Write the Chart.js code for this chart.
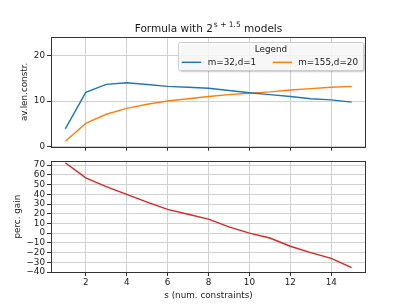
<!DOCTYPE html>
<html>
<head>
<meta charset="utf-8">
<script src="https://cdn.jsdelivr.net/npm/chart.js@4.4.0/dist/chart.umd.min.js"></script>
<style>
  html, body { margin: 0; padding: 0; background: #fff; }
  #wrap { position: relative; width: 407px; height: 306px; overflow: hidden; }
  .box { position: absolute; left: 0; width: 407px; }
</style>
</head>
<body>
<div id="wrap">
  <div class="box" style="top:0;height:154px;"><canvas id="topChart"></canvas></div>
  <div class="box" style="top:154px;height:152px;"><canvas id="bottomChart"></canvas></div>
</div>
<script>
/* ---- Data ---- */
const sValues   = [1, 2, 3, 4, 5, 6, 7, 8, 9, 10, 11, 12, 13, 14, 15];
const lenM32    = [3.9, 11.9, 13.65, 14.0, 13.6, 13.2, 13.0, 12.8, 12.3, 11.8, 11.4, 11.0, 10.5, 10.25, 9.75];
const lenM155   = [1.2, 5.1, 7.1, 8.4, 9.3, 10.0, 10.5, 11.0, 11.4, 11.7, 12.0, 12.4, 12.7, 13.0, 13.2];
const percGain  = [72.5, 57, 48, 40, 32, 24.5, 19.5, 14.5, 6.5, 0, -5, -13.5, -20, -26, -35.5];
const seriesLabels = ['m=32,d=1', 'm=155,d=20'];
const xTicks    = [2, 4, 6, 8, 10, 12, 14];
const topYTicks = [0, 10, 20];
const botYTicks = [-40, -30, -20, -10, 0, 10, 20, 30, 40, 50, 60, 70];

const FONT = 'DejaVu Sans';
const TXT = '#1a1a1a';
const GRID = '#d0d0d0';
const COLORS = ['#1f77b4', '#ff7f0e', '#d62728'];

function pts(ys) {
  return sValues.map((x, i) => ({ x, y: ys[i] }));
}
function keepTicks(list) {
  return (scale) => { scale.ticks = list.map((v) => ({ value: v })); };
}
function minus(v) {
  return String(v).replace('-', '\u2212');
}

/* ---- Frame around plot area (matplotlib spines) ---- */
const framePlugin = {
  id: 'frame',
  afterDraw(chart) {
    const { ctx, chartArea: a } = chart;
    ctx.save();
    ctx.strokeStyle = '#333';
    ctx.lineWidth = 1;
    ctx.strokeRect(Math.round(a.left) + 0.5, Math.round(a.top) + 0.5,
      Math.round(a.right - a.left) - 1, Math.round(a.bottom - a.top));
    ctx.restore();
  },
};

/* ---- Title with superscript + in-axes legend ---- */
const topDecor = {
  id: 'topDecor',
  afterDraw(chart) {
    const { ctx, chartArea: a } = chart;
    ctx.save();
    // title
    const main = `10.5px "${FONT}"`;
    const sup = `7.5px "${FONT}"`;
    const p1 = 'Formula with 2', p2 = 's + 1.5', p3 = ' models';
    ctx.font = main; const w1 = ctx.measureText(p1).width, w3 = ctx.measureText(p3).width;
    ctx.font = sup;  const w2 = ctx.measureText(p2).width + 1;
    let x = (a.left + a.right) / 2 - (w1 + w2 + w3) / 2;
    ctx.fillStyle = TXT; ctx.textBaseline = 'alphabetic'; ctx.textAlign = 'left';
    ctx.font = main; ctx.fillText(p1, x, 31.7); x += w1 + 1;
    ctx.font = sup;  ctx.fillText(p2, x, 26.5); x += w2 - 1;
    ctx.font = main; ctx.fillText(p3, x, 31.7);

    // legend box
    const bx = 178.5, by = 42.5, bw = 185, bh = 28;
    ctx.shadowColor = 'rgba(0,0,0,0.25)';
    ctx.shadowOffsetX = 1.5; ctx.shadowOffsetY = 1.5; ctx.shadowBlur = 1.5;
    ctx.fillStyle = 'rgba(255,255,255,0.85)';
    ctx.beginPath(); ctx.roundRect(bx, by, bw, bh, 2); ctx.fill();
    ctx.shadowColor = 'transparent';
    ctx.strokeStyle = '#cccccc'; ctx.lineWidth = 1; ctx.stroke();

    ctx.fillStyle = TXT;
    ctx.font = `8.8px "${FONT}"`;
    ctx.textAlign = 'center'; ctx.textBaseline = 'middle';
    ctx.fillText('Legend', bx + bw / 2, 49.5);
    ctx.textAlign = 'left';
    const entries = [[181.7, 207.7], [272.7, 298.3]];
    entries.forEach(([lx, tx], i) => {
      ctx.strokeStyle = COLORS[i]; ctx.lineWidth = 1.4;
      ctx.beginPath(); ctx.moveTo(lx, 62.3); ctx.lineTo(lx + 19.5, 62.3); ctx.stroke();
      ctx.fillText(seriesLabels[i], tx, 62.5);
    });
    ctx.restore();
  },
};

const tickFont = { family: FONT, size: 8.8 };
const commonGrid = { color: GRID, lineWidth: 1, tickLength: 4, tickColor: '#333', drawTicks: true };

function xScale(extra) {
  return Object.assign({
    type: 'linear', min: 0.3, max: 15.7,
    afterBuildTicks: keepTicks(xTicks),
    grid: commonGrid,
    border: { display: false },
  }, extra);
}

/* ---- Top: average constraint length ---- */
new Chart(document.getElementById('topChart'), {
  type: 'line',
  data: {
    datasets: [
      { label: seriesLabels[0], data: pts(lenM32),  borderColor: COLORS[0] },
      { label: seriesLabels[1], data: pts(lenM155), borderColor: COLORS[1] },
    ],
  },
  options: {
    responsive: true, maintainAspectRatio: false, animation: false,
    layout: { padding: { top: 37, right: 41, left: 0, bottom: 0 } },
    elements: { point: { radius: 0 }, line: { borderWidth: 1.4, tension: 0 } },
    plugins: { legend: { display: false }, tooltip: { enabled: false } },
    scales: {
      x: xScale({ ticks: { display: false, autoSkip: false }, afterFit: (s) => { s.height = 4.5; } }),
      y: {
        min: 0, max: 24,
        afterBuildTicks: keepTicks(topYTicks),
        afterFit: (s) => { s.width = 51; },
        grid: commonGrid,
        border: { display: false },
        ticks: { font: tickFont, color: TXT, padding: 2, autoSkip: false },
        title: { display: true, text: 'av.len.constr.', font: tickFont, color: TXT, padding: { top: 19.5 } },
      },
    },
  },
  plugins: [framePlugin, topDecor],
});

/* ---- Bottom: percentage gain ---- */
new Chart(document.getElementById('bottomChart'), {
  type: 'line',
  data: {
    datasets: [{ label: 'perc. gain', data: pts(percGain), borderColor: COLORS[2] }],
  },
  options: {
    responsive: true, maintainAspectRatio: false, animation: false,
    layout: { padding: { top: 6.7, right: 41, left: 0, bottom: 0 } },
    elements: { point: { radius: 0 }, line: { borderWidth: 1.4, tension: 0 } },
    plugins: { legend: { display: false }, tooltip: { enabled: false } },
    scales: {
      x: xScale({
        afterFit: (s) => { s.height = 34; },
        ticks: { font: tickFont, color: TXT, padding: 1.4, maxRotation: 0, autoSkip: false },
        title: { display: true, text: 's (num. constraints)', font: tickFont, color: TXT, padding: { top: 0, bottom: 5.4 } },
      }),
      y: {
        min: -40, max: 74,
        afterBuildTicks: keepTicks(botYTicks),
        afterFit: (s) => { s.width = 51; },
        grid: commonGrid,
        border: { display: false },
        ticks: { font: tickFont, color: TXT, padding: 2, autoSkip: false, callback: (v) => minus(v) },
        title: { display: true, text: 'perc. gain', font: tickFont, color: TXT, padding: { top: 12.5 } },
      },
    },
  },
  plugins: [framePlugin],
});
</script>
</body>
</html>
